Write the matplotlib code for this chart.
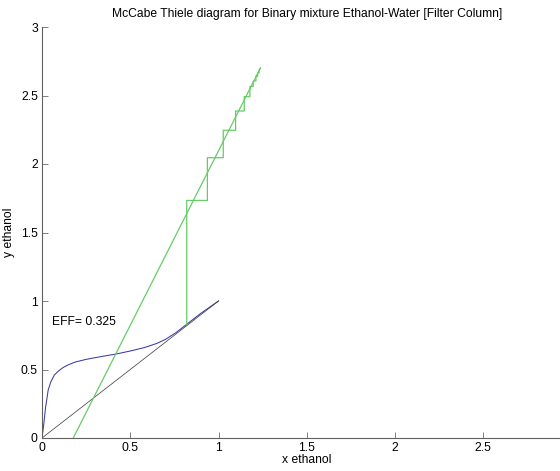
import matplotlib
matplotlib.use('agg')
import matplotlib.pyplot as plt

plt.rcParams['font.family'] = ['Liberation Sans', 'DejaVu Sans']

# equilibrium curve
x_eq = [0, 0.005, 0.01, 0.02, 0.035, 0.05, 0.07, 0.09, 0.12, 0.15, 0.19, 0.25,
        0.3, 0.36, 0.42, 0.5, 0.58, 0.65, 0.7, 0.76, 0.82, 0.9, 0.95, 1.0]
y_eq = [0, 0.05, 0.10, 0.22, 0.35, 0.41, 0.46, 0.485, 0.515, 0.535, 0.555, 0.574,
        0.586, 0.60, 0.613, 0.635, 0.66, 0.69, 0.72, 0.77, 0.83, 0.91, 0.955, 1.0]

# diagonal y = x
x_diag = [0, 1]
y_diag = [0, 1]

# operating line
x_op = [0.177, 1.237]
y_op = [0.0, 2.70]

# stage stepping corners
x_st = [0.82, 0.82, 0.937, 0.937, 1.027, 1.027, 1.097, 1.097, 1.146, 1.146,
        1.178, 1.178, 1.197, 1.197, 1.212, 1.212, 1.222, 1.222, 1.230, 1.230, 1.237]
y_st = [0.83, 1.734, 1.734, 2.046, 2.046, 2.246, 2.246, 2.387, 2.387, 2.492,
        2.492, 2.566, 2.566, 2.606, 2.606, 2.64, 2.64, 2.665, 2.665, 2.685, 2.70]

eff = 0.325

fig = plt.figure(figsize=(5.6, 4.71), dpi=100)
# axes run past the right edge (xlim 0..3), like the cropped original
ax = fig.add_axes([42/560, 33/471, 529.5/560, 411/471])

ax.plot(x_eq, y_eq, color='#3a3aa8', lw=0.75)
ax.plot(x_diag, y_diag, color='#444444', lw=0.55)
ax.plot(x_op, y_op, color='#66cc66', lw=0.9)
ax.plot(x_st, y_st, color='#66cc66', lw=0.9)

ax.text(0.055, 0.85, 'EFF= %.3f' % eff, fontsize=8.7, va='center', ha='left')

ax.set_xlim(0, 3)
ax.set_ylim(0, 3)
ax.set_xticks([0, 0.5, 1, 1.5, 2, 2.5])
ax.set_xticklabels(['0', '0.5', '1', '1.5', '2', '2.5'])
ax.set_yticks([0, 0.5, 1, 1.5, 2, 2.5, 3])
ax.set_yticklabels(['0', '0.5', '1', '1.5', '2', '2.5', '3'])

ax.spines['top'].set_visible(False)
ax.spines['right'].set_visible(False)
for s in ['left', 'bottom']:
    ax.spines[s].set_color('#606060')
    ax.spines[s].set_linewidth(0.8)
ax.tick_params(direction='in', length=4, width=0.7, color='#808080',
               labelsize=8.7, pad=3)

ax.set_title('McCabe Thiele diagram for Binary mixture Ethanol-Water [Filter Column]',
             fontsize=8.7, pad=7)
ax.set_xlabel('x ethanol', fontsize=8.7, labelpad=0)
ax.set_ylabel('y ethanol', fontsize=8.7, labelpad=4)

fig.savefig('out.png', dpi=100)
